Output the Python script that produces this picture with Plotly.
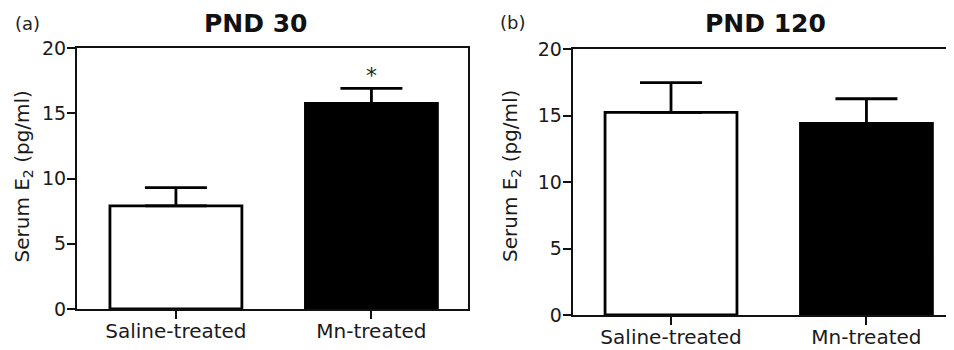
import plotly.graph_objects as go

categories = ["Saline-treated", "Mn-treated"]
pnd30_mean = [7.9, 15.76]
pnd30_sem = [1.4, 1.15]
pnd120_mean = [15.24, 14.41]
pnd120_sem = [2.23, 1.85]
bar_colors = ["white", "black"]
y_ticks = [0, 5, 10, 15, 20]

FONT = "DejaVu Sans"
W, H = 954, 350
OFF = 8  # default page body margin


def fx(sx):
    return (sx - OFF) / W


def fy(sy):
    return 1 - (sy - OFF) / H


fig = go.Figure()


def add_bars(means, sems, xa, ya):
    fig.add_trace(go.Bar(
        x=list(range(len(categories))), y=means,
        width=[0.675] * len(categories),
        marker=dict(color=bar_colors, line=dict(color="black", width=2.8)),
        error_y=dict(type="data", array=sems, arrayminus=[0] * len(sems),
                     symmetric=False, color="black", thickness=2.8, width=31),
        xaxis=xa, yaxis=ya, showlegend=False, hoverinfo="skip",
    ))


add_bars(pnd30_mean, pnd30_sem, "x", "y")
add_bars(pnd120_mean, pnd120_sem, "x2", "y2")

axis_common = dict(showline=True, linecolor="#111", linewidth=2,
                   ticks="outside", ticklen=8, tickwidth=2, tickcolor="#111",
                   showgrid=False, zeroline=False, automargin=False)
tickfont_y = dict(family=FONT, size=19, color="#1a1a1a")
tickfont_x = dict(family=FONT, size=20, color="#1a1a1a")

fig.update_layout(
    template="none",
    width=W, height=H, margin=dict(l=0, r=0, t=0, b=0, pad=0),
    paper_bgcolor="white", plot_bgcolor="white",
    xaxis=dict(domain=[fx(77), fx(468)], range=[-0.506, 1.494],
               tickvals=[0, 1], ticktext=categories, tickfont=tickfont_x,
               ticklabelstandoff=-5, mirror=True, anchor="y", **axis_common),
    yaxis=dict(domain=[fy(309), fy(48)], range=[0, 20],
               tickvals=y_ticks, tickfont=tickfont_y, mirror=True,
               ticklabelstandoff=-3, anchor="x", **axis_common),
    xaxis2=dict(domain=[fx(572.7), fx(954)], range=[-0.503, 1.448],
                tickvals=[0, 1], ticktext=categories, tickfont=tickfont_x,
                ticklabelstandoff=-5, mirror=True, anchor="y2", **axis_common),
    yaxis2=dict(domain=[fy(315), fy(49)], range=[0, 20],
                tickvals=y_ticks, tickfont=tickfont_y, mirror=False,
                ticklabelstandoff=-3, anchor="x2", **axis_common),
)

ann = []
# panel titles
ann.append(dict(text="<b>PND 30</b>", x=fx(256), y=fy(24), xref="paper", yref="paper",
                showarrow=False, font=dict(family=FONT, size=25, color="#111"),
                xanchor="center", yanchor="middle"))
ann.append(dict(text="<b>PND 120</b>", x=fx(765), y=fy(24), xref="paper", yref="paper",
                showarrow=False, font=dict(family=FONT, size=25, color="#111"),
                xanchor="center", yanchor="middle"))
# panel letters
ann.append(dict(text="(a)", x=fx(13), y=fy(24), xref="paper", yref="paper",
                showarrow=False, font=dict(family=FONT, size=18, color="#222"),
                xanchor="left", yanchor="middle"))
ann.append(dict(text="(b)", x=fx(498), y=fy(23), xref="paper", yref="paper",
                showarrow=False, font=dict(family=FONT, size=18, color="#222"),
                xanchor="left", yanchor="middle"))
# y-axis titles
ytitle = "Serum E<sub>2</sub> (pg/ml)"
ann.append(dict(text=ytitle, x=fx(22), y=fy(176.5), xref="paper", yref="paper",
                showarrow=False, textangle=-90, font=dict(family=FONT, size=20, color="#1a1a1a"),
                xanchor="center", yanchor="middle"))
ann.append(dict(text=ytitle, x=fx(511), y=fy(176), xref="paper", yref="paper",
                showarrow=False, textangle=-90, font=dict(family=FONT, size=20, color="#1a1a1a"),
                xanchor="center", yanchor="middle"))
# significance star
ann.append(dict(text="*", x=1, y=pnd30_mean[1] + pnd30_sem[1] - 0.13, xref="x", yref="y",
                showarrow=False, font=dict(family=FONT, size=22, color="#222"),
                xanchor="center", yanchor="bottom"))

fig.update_layout(annotations=ann)
fig.write_html("out.html")
